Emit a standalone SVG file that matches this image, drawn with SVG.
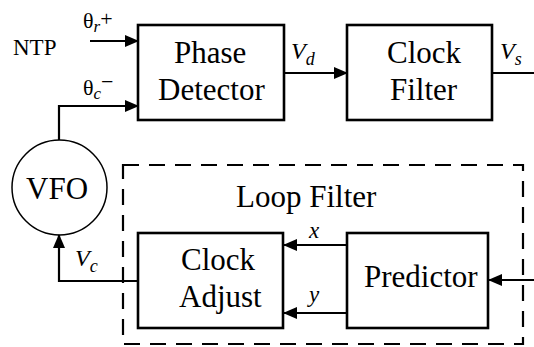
<svg xmlns="http://www.w3.org/2000/svg" width="534" height="347" viewBox="0 0 534 347">
<defs>
<marker id="ah" markerUnits="userSpaceOnUse" markerWidth="14" markerHeight="12" refX="13" refY="6" orient="auto" viewBox="0 0 14 12">
<path d="M0,0 L14,6 L0,12 Z" fill="#000"/>
</marker>
</defs>
<rect width="534" height="347" fill="#fff"/>
<g id="connectors" fill="none" stroke="#000" stroke-width="2.2">
<path d="M90,41 H138" marker-end="url(#ah)"/>
<path d="M59,140 V106 H138" marker-end="url(#ah)"/>
<path d="M284,73 H347" marker-end="url(#ah)"/>
<path d="M492,73 H534"/>
<path d="M138,281 H59 V235" marker-end="url(#ah)"/>
<path d="M347,245 H284" marker-end="url(#ah)"/>
<path d="M347,313 H284" marker-end="url(#ah)"/>
<path d="M534,280 H489" marker-end="url(#ah)"/>
</g>
<g id="labels">
<text style="font-family:'Liberation Serif'" font-size="23" x="13" y="55">NTP</text>
<text style="font-family:'Liberation Serif'" font-size="22" x="83" y="28">&#952;<tspan style="font-family:'Liberation Serif'" font-style="italic" font-size="17" dy="4">r</tspan><tspan style="font-family:'Liberation Serif'" font-size="22" dy="-6">+</tspan></text>
<text style="font-family:'Liberation Serif'" font-size="22" x="83" y="95">&#952;<tspan style="font-family:'Liberation Serif'" font-style="italic" font-size="17" dy="4">c</tspan><tspan style="font-family:'Liberation Serif'" font-size="22" dy="-10">&#8722;</tspan></text>
<text style="font-family:'Liberation Serif'" font-size="24" font-style="italic" x="291" y="59">V<tspan style="font-family:'Liberation Serif'" font-style="italic" font-size="18" dy="6">d</tspan></text>
<text style="font-family:'Liberation Serif'" font-size="24" font-style="italic" x="500" y="59">V<tspan style="font-family:'Liberation Serif'" font-style="italic" font-size="18" dy="6">s</tspan></text>
<text style="font-family:'Liberation Serif'" font-size="24" font-style="italic" x="75" y="266">V<tspan style="font-family:'Liberation Serif'" font-style="italic" font-size="18" dy="6">c</tspan></text>
<text style="font-family:'Liberation Serif'" font-size="23" font-style="italic" x="309" y="238">x</text>
<text style="font-family:'Liberation Serif'" font-size="23" font-style="italic" x="309" y="302">y</text>
</g>
<g id="phase-detector">
<rect x="138" y="25" width="146" height="95" fill="none" stroke="#000" stroke-width="2.6"/>
<text style="font-family:'Liberation Serif'" font-size="31" x="174" y="63">Phase</text>
<text style="font-family:'Liberation Serif'" font-size="31" x="158" y="100">Detector</text>
</g>
<g id="clock-filter">
<rect x="347" y="25" width="145" height="95" fill="none" stroke="#000" stroke-width="2.6"/>
<text style="font-family:'Liberation Serif'" font-size="31" x="387" y="63">Clock</text>
<text style="font-family:'Liberation Serif'" font-size="31" x="390" y="100">Filter</text>
</g>
<g id="vfo">
<circle cx="59.5" cy="187.5" r="47.5" fill="none" stroke="#000" stroke-width="1.5"/>
<text style="font-family:'Liberation Serif'" font-size="31" x="26" y="199">VFO</text>
</g>
<g id="loop-filter">
<rect x="123" y="165" width="400" height="179" fill="none" stroke="#000" stroke-width="2.2" stroke-dasharray="16,10"/>
<text style="font-family:'Liberation Serif'" font-size="31" x="236" y="207">Loop Filter</text>
</g>
<g id="clock-adjust">
<rect x="138" y="233" width="145" height="95" fill="none" stroke="#000" stroke-width="2.6"/>
<text style="font-family:'Liberation Serif'" font-size="31" x="181" y="270">Clock</text>
<text style="font-family:'Liberation Serif'" font-size="31" x="179" y="307">Adjust</text>
</g>
<g id="predictor">
<rect x="347" y="233" width="141" height="95" fill="none" stroke="#000" stroke-width="2.6"/>
<text style="font-family:'Liberation Serif'" font-size="31" x="364" y="287">Predictor</text>
</g>
</svg>
